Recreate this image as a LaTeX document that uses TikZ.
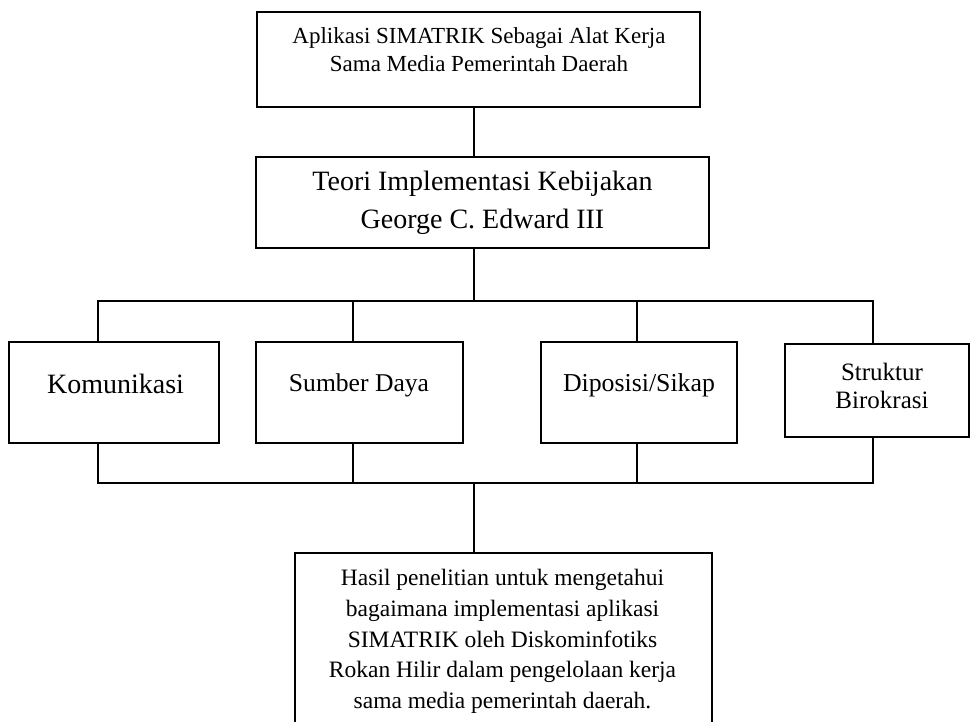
\documentclass[tikz,border=0pt]{standalone}
\usepackage{fontspec}
\setmainfont{Liberation Serif}

\begin{document}
\begin{tikzpicture}[x=1pt, y=-1pt,
	box/.style={draw, line width=1.8pt, inner sep=0pt},
	txt/.style={align=center, inner sep=0pt},
	link/.style={line width=1.8pt}]
	\useasboundingbox (0,0) rectangle (971,722);
	\clip (0,0) rectangle (971,722);

	\node[box, minimum width=443pt, minimum height=95pt] (app) at (478.5,59.5) {};
	\node[txt, font=\fontsize{23}{28}\selectfont] (appT) at (479,50) {Aplikasi SIMATRIK Sebagai Alat Kerja\\Sama Media Pemerintah Daerah};
	\node[box, txt, minimum width=453pt, minimum height=91pt, font=\fontsize{28}{38}\selectfont] (teori) at (482.5,202.5) {Teori Implementasi Kebijakan\\George C. Edward III};

	\node[box, minimum width=210pt, minimum height=101pt] (kom) at (114,392.5) {};
	\node[box, minimum width=207pt, minimum height=101pt] (sd) at (359.5,392.5) {};
	\node[box, minimum width=196pt, minimum height=101pt] (dis) at (639,392.5) {};
	\node[box, minimum width=184pt, minimum height=93pt] (sb) at (877,390.5) {};
	\node[txt, font=\fontsize{28}{30}\selectfont] (komT) at (115.5,384) {Komunikasi};
	\node[txt, font=\fontsize{25.6}{28}\selectfont] (sdT) at (359,385) {Sumber Daya};
	\node[txt, font=\fontsize{25.8}{28}\selectfont] (disT) at (639,385) {Diposisi/Sikap};
	\node[txt, font=\fontsize{25}{28}\selectfont] (sbT) at (882,386) {Struktur\\Birokrasi};

	\node[box, minimum width=417pt, minimum height=207pt] (hasil) at (503.5,656.5) {};
	\node[txt, font=\fontsize{23.5}{30.6}\selectfont] (hasilT) at (502.5,641.5) {Hasil penelitian untuk mengetahui\\bagaimana implementasi aplikasi\\SIMATRIK oleh Diskominfotiks\\Rokan Hilir dalam pengelolaan kerja\\sama media pemerintah daerah.};

	\coordinate (busU) at (474,301);
	\coordinate (busL) at (474,483);

	\draw[link] (app.south -| busU) -- (teori.north -| busU);
	\draw[link] (teori.south -| busU) -- (busU);
	\foreach \n/\dx in {kom/-16, sd/-6.5, dis/-2, sb/-4} {
		\draw[link] ([xshift=\dx pt]\n.north) |- (busU);
		\draw[link] ([xshift=\dx pt]\n.south) |- (busL);
	}
	\draw[link] (busL) -- (hasil.north -| busL);
\end{tikzpicture}
\end{document}
